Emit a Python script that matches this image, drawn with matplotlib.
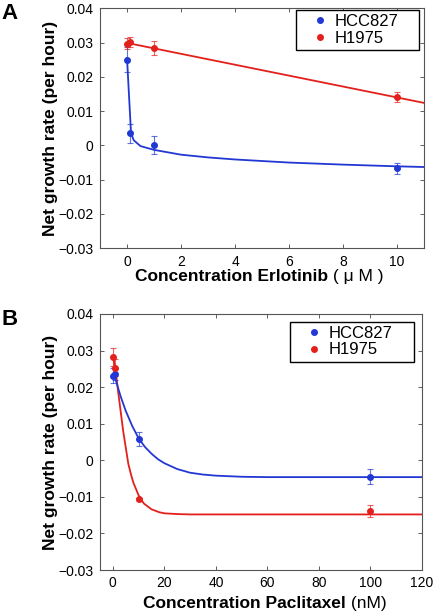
import matplotlib
matplotlib.use("Agg")
import matplotlib.pyplot as plt
from matplotlib.ticker import FixedLocator, FixedFormatter

plt.rcParams['font.family'] = ['Liberation Sans', 'DejaVu Sans']

# Panel A: Erlotinib (uM)
erl_x = [0, 0.1, 1, 10]
erl_hcc = [0.025, 0.0035, 0.0, -0.0067]
erl_hcc_err = [0.0037, 0.0028, 0.0026, 0.0017]
erl_h19 = [0.0296, 0.0301, 0.0285, 0.0141]
erl_h19_err = [0.0016, 0.0014, 0.0021, 0.0014]

# fit curves
erl_fit_hcc_x = [0, 0.15, 0.25, 0.5, 1, 2, 3, 4, 6, 8, 10, 11]
erl_fit_hcc_y = [0.0255, 0.0035, 0.0015, -0.0002, -0.0013, -0.0027, -0.0035, -0.0041,
                 -0.005, -0.0056, -0.0061, -0.0063]
erl_fit_h19_x = [0, 11]
erl_fit_h19_y = [0.0299, 0.0124]

# Panel B: Paclitaxel (nM)
pac_x = [0, 1, 10, 100]
pac_hcc = [0.0231, 0.0235, 0.0058, -0.0045]
pac_hcc_err = [0.0021, 0.0015, 0.002, 0.0021]
pac_h19 = [0.0283, 0.0253, -0.0106, -0.0138]
pac_h19_err = [0.0024, 0.0023, 0.0004, 0.0017]

pac_fit_hcc_x = [0, 1, 3, 5, 7.5, 10, 12.5, 15, 17.5, 20, 25, 30, 35, 40, 50, 60, 80, 120]
pac_fit_hcc_y = [0.0235, 0.0222, 0.0175, 0.0135, 0.0094, 0.006, 0.0036, 0.0018, 0.0003,
                 -0.0008, -0.0024, -0.0034, -0.0039, -0.0042, -0.0045, -0.0046, -0.0046, -0.0046]
pac_fit_h19_x = [0, 1, 2, 3, 4, 5, 6, 7, 8, 10, 12, 15, 18, 20, 25, 30, 40, 120]
pac_fit_h19_y = [0.0285, 0.025, 0.019, 0.0135, 0.008, 0.0035, -0.001, -0.0038, -0.0062,
                 -0.0096, -0.0118, -0.0134, -0.0142, -0.0145, -0.0147, -0.0148, -0.0148, -0.0148]

blue = '#2238d4'
red = '#e3201b'
yticks = [-0.03, -0.02, -0.01, 0, 0.01, 0.02, 0.03, 0.04]
ylabels = ['\u22120.03', '\u22120.02', '\u22120.01', '0', '0.01', '0.02', '0.03', '0.04']

fig = plt.figure(figsize=(4.34, 6.13), dpi=100)
axA = fig.add_axes([0.2304, 0.595, 0.7466, 0.3915])
axB = fig.add_axes([0.2304, 0.0701, 0.742, 0.4177])


def draw(ax, x, hcc, hcc_err, h19, h19_err, fh_x, fh_y, f19_x, f19_y):
    ax.plot(f19_x, f19_y, color=red, lw=1.3, zorder=2)
    ax.plot(fh_x, fh_y, color=blue, lw=1.3, zorder=2)
    ax.errorbar(x, hcc, yerr=hcc_err, fmt='none', ecolor=blue, elinewidth=0.8,
                capsize=2.5, capthick=0.8, alpha=0.7, zorder=3)
    ax.errorbar(x, h19, yerr=h19_err, fmt='none', ecolor=red, elinewidth=0.8,
                capsize=2.5, capthick=0.8, alpha=0.7, zorder=3)
    ax.plot(x, hcc, 'o', color=blue, ms=4, ls='none', label='HCC827', zorder=4)
    ax.plot(x, h19, 'o', color=red, ms=4, ls='none', label='H1975', zorder=4)
    ax.set_ylim(-0.03, 0.04)
    ax.yaxis.set_major_locator(FixedLocator(yticks))
    ax.yaxis.set_major_formatter(FixedFormatter(ylabels))
    ax.tick_params(direction='in', length=3, width=0.6, labelsize=10, pad=4.5,
                   top=True, right=True, color='#444444')
    for s in ax.spines.values():
        s.set_linewidth(0.8)
        s.set_color('#555555')
    ax.set_ylabel('Net growth rate (per hour)', fontsize=12.5, fontweight='bold', labelpad=0)


def legend(ax, x0, top, w):
    ax.legend(loc='upper left', bbox_to_anchor=(x0, top - 0.2, w, 0.2), mode='expand',
              borderaxespad=0, fontsize=12, handlelength=2.4, handletextpad=-0.36,
              borderpad=0.25, labelspacing=0.1, fancybox=False, edgecolor='black',
              framealpha=1)


draw(axA, erl_x, erl_hcc, erl_hcc_err, erl_h19, erl_h19_err,
     erl_fit_hcc_x, erl_fit_hcc_y, erl_fit_h19_x, erl_fit_h19_y)
axA.set_xlim(-1, 11)
axA.set_xticks([0, 2, 4, 6, 8, 10])
legend(axA, 0.605, 0.993, 0.38)

draw(axB, pac_x, pac_hcc, pac_hcc_err, pac_h19, pac_h19_err,
     pac_fit_hcc_x, pac_fit_hcc_y, pac_fit_h19_x, pac_fit_h19_y)
axB.set_xlim(-5, 120)
axB.set_xticks([0, 20, 40, 60, 80, 100, 120])
legend(axB, 0.59, 0.970, 0.384)

# x labels: bold part plus regular unit part
tA = fig.text(0.311, 1 - 281 / 613, 'Concentration Erlotinib', fontsize=12.5, fontweight='bold')
axA.annotate(' ( \u03bc M )', xy=(1, 0), xycoords=tA, fontsize=12.5, va='bottom')
tB = fig.text(0.329, 1 - 608 / 613, 'Concentration Paclitaxel', fontsize=12.5, fontweight='bold')
axB.annotate(' (nM)', xy=(1, 0), xycoords=tB, fontsize=12.5, va='bottom')

fig.text(0.003, 0.995, 'A', fontsize=16, fontweight='bold', va='top')
fig.text(0.003, 1 - 309 / 613, 'B', fontsize=16, fontweight='bold', va='top')

fig.savefig('out.png', dpi=100)
